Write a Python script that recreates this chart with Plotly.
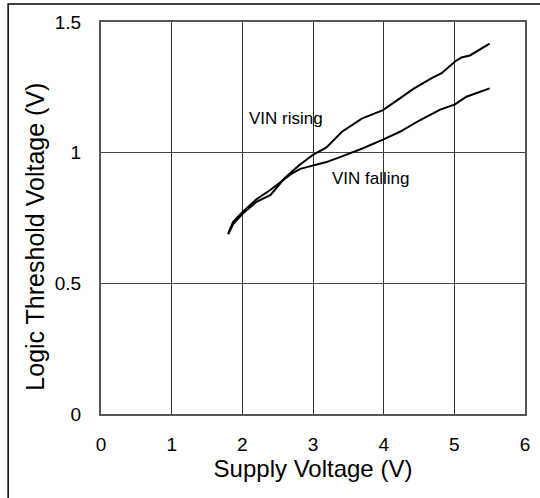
import plotly.graph_objects as go

rising_x = [1.80, 1.87, 2.0, 2.2, 2.4, 2.6, 2.8, 3.0, 3.19, 3.41, 3.69, 3.83, 3.99, 4.23, 4.42, 4.68, 4.82, 5.01, 5.10, 5.22, 5.50]
rising_y = [0.688, 0.727, 0.765, 0.812, 0.838, 0.903, 0.951, 0.992, 1.02, 1.08, 1.13, 1.144, 1.163, 1.208, 1.244, 1.285, 1.304, 1.349, 1.364, 1.372, 1.417]

falling_x = [1.80, 1.87, 2.0, 2.2, 2.4, 2.6, 2.7, 2.82, 3.0, 3.19, 3.4, 3.69, 3.99, 4.23, 4.51, 4.80, 5.01, 5.17, 5.50]
falling_y = [0.690, 0.735, 0.772, 0.822, 0.858, 0.898, 0.920, 0.938, 0.950, 0.964, 0.985, 1.015, 1.05, 1.08, 1.124, 1.165, 1.185, 1.214, 1.246]

x_ticks = [0, 1, 2, 3, 4, 5, 6]
y_ticks = [0, 0.5, 1, 1.5]
y_tick_text = ["0", "0.5", "1", "1.5"]

font = "Liberation Sans, Arial, sans-serif"

fig = go.Figure()
fig.add_trace(go.Scatter(x=rising_x, y=rising_y, mode="lines",
                         line=dict(color="black", width=2), name="VIN rising"))
fig.add_trace(go.Scatter(x=falling_x, y=falling_y, mode="lines",
                         line=dict(color="black", width=2), name="VIN falling"))

fig.add_annotation(x=2.62, y=1.13, text="VIN rising", showarrow=False,
                   font=dict(size=17, color="black", family=font))
fig.add_annotation(x=3.82, y=0.90, text="VIN falling", showarrow=False,
                   font=dict(size=17, color="black", family=font))

# y-axis title placed as rotated annotation
fig.add_annotation(xref="paper", yref="paper", x=-0.156, y=0.452,
                   text="Logic Threshold Voltage (V)", textangle=-90, showarrow=False,
                   xanchor="center", yanchor="middle",
                   font=dict(size=25, color="black", family=font))

# outer frame (partially cropped)
fig.add_shape(type="rect", xref="paper", yref="paper",
              x0=-0.219, x1=1.06, y0=-0.25, y1=1.046,
              line=dict(color="black", width=1.5), layer="below")

fig.update_layout(
    width=540, height=498,
    margin=dict(l=101, r=15, t=22, b=84, autoexpand=False),
    paper_bgcolor="white", plot_bgcolor="white",
    showlegend=False,
    font=dict(family=font, color="black"),
    xaxis=dict(range=[0, 6], tickvals=x_ticks, showgrid=True,
               gridcolor="#333", gridwidth=1, zeroline=False,
               showline=True, linecolor="#555", linewidth=2, mirror=True,
               ticks="", ticklabelstandoff=12, automargin=False,
               tickfont=dict(size=19, family=font),
               title=dict(text="Supply Voltage (V)", font=dict(size=24, family=font), standoff=6)),
    yaxis=dict(range=[0, 1.5], tickvals=y_ticks, ticktext=y_tick_text, showgrid=True,
               gridcolor="#444", gridwidth=1, zeroline=False,
               showline=True, linecolor="#555", linewidth=2, mirror=True,
               ticks="", ticklabelstandoff=14, automargin=False,
               tickfont=dict(size=19, family=font)),
)

fig.write_html("out.html", config={"displayModeBar": False},
               post_script="document.body.style.margin='0';document.body.style.padding='0';")
